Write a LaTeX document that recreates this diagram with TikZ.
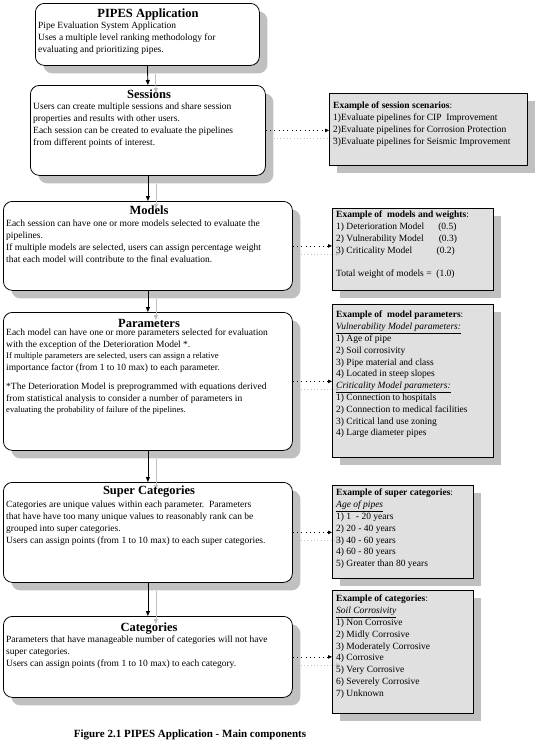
\documentclass[tikz,border=0pt]{standalone}
\usepackage{fontspec}
\setmainfont{Liberation Serif}
\usetikzlibrary{arrows.meta,shadows}
\definecolor{shd}{RGB}{192,192,192}
\definecolor{exfill}{RGB}{224,224,224}
\begin{document}
\begin{tikzpicture}[x=1pt,y=-1pt,
  mainbox/.style={draw, rounded corners=9pt, fill=white, line width=0.8pt, inner sep=0pt, anchor=north west,
    drop shadow={shadow xshift=8pt, shadow yshift=-8pt, fill=shd, opacity=1}},
  exbox/.style={draw, fill=exfill, line width=0.8pt, inner sep=0pt, anchor=north west,
    drop shadow={shadow xshift=8pt, shadow yshift=-8pt, fill=shd, opacity=1}},
  ttl/.style={anchor=base, inner sep=0pt, font=\fontsize{12.5}{14}\selectfont\bfseries},
  body/.style={anchor=north west, inner sep=0pt, align=left, font=\fontsize{9.5}{11.8}\selectfont},
  conn/.style={line width=0.8pt, -{Triangle[length=5pt,width=4pt]}},
  gconn/.style={draw=shd, line width=0.8pt, -{Triangle[length=5pt,width=4pt]}},
  dots/.style={line width=0.8pt, dash pattern=on 0.8pt off 3.5pt, -{Triangle[length=4pt,width=3.5pt]}},
  gdots/.style={draw=shd, line width=0.8pt, dash pattern=on 0.8pt off 2.5pt, -{Triangle[length=4pt,width=3.5pt]}}
]
\fill[white] (0,0) rectangle (538,745);
\useasboundingbox (0,0) rectangle (538,745);

% main boxes
\node[mainbox, minimum width=224pt, minimum height=62pt] (app) at (35,3) {};
\node[mainbox, minimum width=235pt, minimum height=90pt] (sess) at (30,85) {};
\node[mainbox, minimum width=289pt, minimum height=89pt] (mod) at (3,201) {};
\node[mainbox, minimum width=289pt, minimum height=138pt] (par) at (3,312) {};
\node[mainbox, minimum width=289pt, minimum height=100pt] (sup) at (3,482) {};
\node[mainbox, minimum width=289pt, minimum height=81pt] (cat) at (3,616) {};

% example boxes
\node[exbox, minimum width=198pt, minimum height=72pt] (exs) at (329,93) {};
\node[exbox, minimum width=161pt, minimum height=82pt] (exm) at (332,208) {};
\node[exbox, minimum width=161pt, minimum height=153pt] (exp) at (332,304) {};
\node[exbox, minimum width=141pt, minimum height=93pt] (exsc) at (332,485) {};
\node[exbox, minimum width=141pt, minimum height=123pt] (exc) at (332,590) {};

% shadow connectors
\foreach \a/\b in {app/sess, sess/mod, mod/par, par/sup, sup/cat}{
  \draw[gconn] ([shift={(8,8)}]\a.south) -- ([shift={(8,8)}]\b.north);
}
\draw[gdots] ([shift={(8,8)}]sess.east) -- ([shift={(8,8)}]sess.east -| exs.west);
\draw[gdots] ([shift={(8,8)}]mod.east) -- ([shift={(8,8)}]mod.east -| exm.west);
\draw[gdots] ([shift={(8,8)}]par.east) -- ([shift={(8,8)}]par.east -| exp.west);
\draw[gdots] ([shift={(8,8)}]sup.east) -- ([shift={(8,8)}]sup.east -| exsc.west);
\draw[gdots] ([shift={(8,8)}]cat.east) -- ([shift={(8,8)}]cat.east -| exc.west);

% black connectors
\foreach \a/\b in {app/sess, sess/mod, mod/par, par/sup, sup/cat}{
  \draw[conn] (\a.south) -- (\b.north);
}
\draw[dots] (sess.east) -- (sess.east -| exs.west);
\draw[dots] (mod.east) -- (mod.east -| exm.west);
\draw[dots] (par.east) -- (par.east -| exp.west);
\draw[dots] (sup.east) -- (sup.east -| exsc.west);
\draw[dots] (cat.east) -- (cat.east -| exc.west);

% titles
\node[ttl] (appt) at (148,17) {PIPES Application};
\node[ttl] (sesst) at (149,98) {Sessions};
\node[ttl] (modt) at (149,214) {Models};
\node[ttl] (part) at (149,327) {Parameters};
\node[ttl] (supt) at (149,494) {Super Categories};
\node[ttl] (catt) at (149,631) {Categories};

% bodies
\node[body] (appb) at (38,22) {Pipe Evaluation System Application\\
Uses a multiple level ranking methodology for\\
evaluating and prioritizing pipes.};
\node[body] (sessb) at (33,103) {Users can create multiple sessions and share session\\
properties and results with other users.\\
Each session can be created to evaluate the pipelines\\
from different points of interest.};
\node[body] (modb) at (6,220) {Each session can have one or more models selected to evaluate the\\
pipelines.\\
If multiple models are selected, users can assign percentage weight\\
that each model will contribute to the final evaluation.};
\node[body, font=\fontsize{9.5}{11.4}\selectfont] (parb) at (6,329) {Each model can have one or more parameters selected for evaluation\\
with the exception of the Deterioration Model *.\\
{\fontsize{8.6}{11.4}\selectfont If multiple parameters are selected, users can assign a relative}\\
importance factor (from 1 to 10 max) to each parameter.\\[8.5pt]
*The Deterioration Model is preprogrammed with equations derived\\
from statistical analysis to consider a number of parameters in\\
{\fontsize{8.6}{11.4}\selectfont evaluating the probability of failure of the pipelines.}};
\node[body] (supb) at (6,501) {Categories are unique values within each parameter.\ \ Parameters\\
that have have too many unique values to reasonably rank can be\\
grouped into super categories.\\
Users can assign points (from 1 to 10 max) to each super categories.};
\node[body] (catb) at (6,636) {Parameters that have manageable number of categories will not have\\
super categories.\\
Users can assign points (from 1 to 10 max) to each category.};

% example texts
\node[body] (exst) at (333,102) {\textbf{Example of session scenarios}:\\
1)Evaluate pipelines for CIP\ \ Improvement\\
2)Evaluate pipelines for Corrosion Protection\\
3)Evaluate pipelines for Seismic Improvement};
\node[body] (exmt) at (336,211) {\textbf{Example of\ \ models and weights}:\\
1) Deterioration Model\hspace{14pt}(0.5)\\
2) Vulnerability Model\hspace{15pt}(0.3)\\
3) Criticality Model\hspace{24.5pt}(0.2)\\[11.8pt]
Total weight of models =\ \ (1.0)};
\node[body] (expt) at (336,311) {\textbf{Example of\ \ model parameters}:\\
\underline{\textit{Vulnerability Model parameters:}}\\
1) Age of pipe\\
2) Soil corrosivity\\
3) Pipe material and class\\
4) Located in steep slopes\\
\underline{\textit{Criticality Model parameters:}}\\
1) Connection to hospitals\\
2) Connection to medical facilities\\
3) Critical land use zoning\\
4) Large diameter pipes};
\node[body] (exsct) at (336,489) {\textbf{Example of super categories}:\\
\underline{\textit{Age of pipes}}\\
1) 1\ \ - 20 years\\
2) 20 - 40 years\\
3) 40 - 60 years\\
4) 60 - 80 years\\
5) Greater than 80 years};
\node[body] (exct) at (336,595) {\textbf{Example of categories}:\\
\underline{\textit{Soil Corrosivity}}\\
1) Non Corrosive\\
2) Midly Corrosive\\
3) Moderately Corrosive\\
4) Corrosive\\
5) Very Corrosive\\
6) Severely Corrosive\\
7) Unknown};

% caption
\node[anchor=base, inner sep=0pt, font=\fontsize{11}{13}\selectfont\bfseries] (cap) at (190,737) {Figure 2.1 PIPES Application - Main components};
\end{tikzpicture}
\end{document}
